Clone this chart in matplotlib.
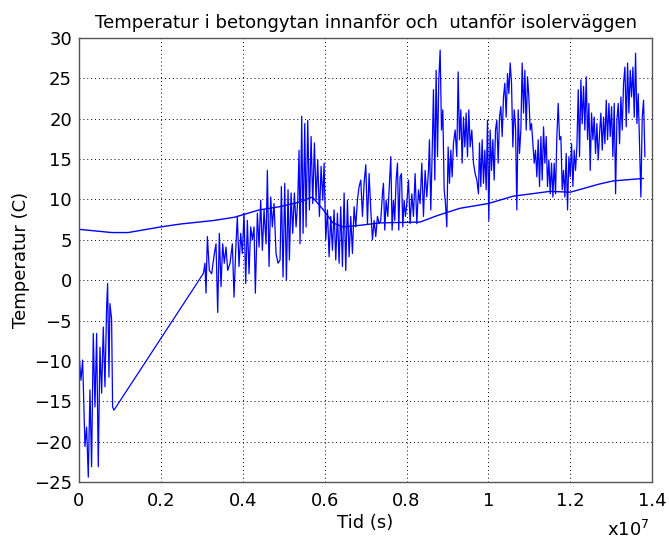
import matplotlib
matplotlib.use("Agg")
import matplotlib.pyplot as plt
import numpy as np

# Time values are in units of 1e7 s, temperatures in degrees C.

# Inner concrete surface (smooth curve)
inner_t = [0.0, 0.04, 0.08, 0.12, 0.2, 0.247, 0.33, 0.38, 0.44, 0.49, 0.54, 0.57,
           0.597, 0.62, 0.645, 0.687, 0.735, 0.833, 0.875, 0.93, 1.0, 1.06, 1.15,
           1.2, 1.27, 1.305, 1.378]
inner_temp = [6.3, 6.1, 5.9, 5.9, 6.6, 6.95, 7.4, 7.8, 8.7, 9.1, 9.7, 10.3,
              8.7, 7.1, 6.6, 6.8, 7.1, 7.2, 8.0, 8.9, 9.5, 10.4, 11.0,
              10.9, 11.9, 12.3, 12.6]

# Outer concrete surface, stored as (time, temperature) pairs per period
outer_winter = [
    (0.0008, -9.5), (0.0049, -12.4), (0.0090, -9.9), (0.0147, -20.6),
    (0.0187, -18.2), (0.0228, -24.4), (0.0269, -13.6), (0.0309, -23.1),
    (0.0350, -6.6), (0.0391, -15.7), (0.0432, -6.6), (0.0472, -23.1),
    (0.0513, -8.3), (0.0554, -14.0), (0.0594, -5.8), (0.0635, -13.2),
    (0.0676, -3.3), (0.0700, -0.4), (0.0733, -12.0), (0.0757, -2.9),
    (0.0798, -4.9), (0.0822, -15.7), (0.0855, -16.1),
]

outer_spring = [
    (0.3038, 0.83), (0.3078, 2.1), (0.3103, -1.6), (0.3136, 5.4),
    (0.3184, 1.2), (0.3241, 0.8), (0.3306, 3.3), (0.3347, 4.5),
    (0.3388, -4.0), (0.3428, 5.8), (0.3469, -0.8), (0.3510, 4.5),
    (0.3550, 2.1), (0.3591, 4.1), (0.3632, 1.2), (0.3689, 2.1),
    (0.3746, 4.5), (0.3787, -2.1), (0.3828, 3.7), (0.3868, 7.9),
    (0.3909, 1.7), (0.3950, 5.8), (0.3990, 3.3), (0.4031, 8.3),
    (0.4072, -0.4), (0.4113, 7.4), (0.4153, 0.8), (0.4194, 6.6),
    (0.4235, 5.0), (0.4275, 6.6), (0.4308, -1.6), (0.4357, 8.3),
    (0.4398, 4.1), (0.4438, 9.9), (0.4479, 3.7), (0.4520, 8.7),
    (0.4569, 4.5), (0.4601, 13.6), (0.4642, 1.7), (0.4683, 10.3),
    (0.4723, 6.6), (0.4764, 9.5), (0.4813, 3.3), (0.4862, 2.1),
    (0.4911, 2.5), (0.4943, 11.6), (0.4984, 0.4), (0.5025, 12.0),
    (0.5066, 0.0), (0.5106, 11.2), (0.5139, 2.5), (0.5180, 10.8),
    (0.5220, 5.8), (0.5261, 10.8), (0.5302, 6.6), (0.5343, 9.9),
    (0.5375, 16.1), (0.5399, 4.5), (0.5440, 20.3), (0.5473, 5.8),
    (0.5514, 19.4), (0.5546, 6.6), (0.5587, 19.8), (0.5628, 8.7),
    (0.5669, 17.8), (0.5709, 9.5), (0.5750, 17.0), (0.5791, 9.9),
    (0.5831, 14.9), (0.5872, 7.9), (0.5913, 14.1), (0.5954, 9.9),
    (0.5986, 14.5), (0.6027, 5.0), (0.6068, 8.7), (0.6108, 2.9),
    (0.6149, 7.9), (0.6190, 3.7), (0.6230, 8.7), (0.6271, 2.5),
    (0.6312, 8.3), (0.6353, 2.1), (0.6393, 9.1), (0.6434, 1.7),
    (0.6475, 10.8), (0.6515, 1.2), (0.6556, 9.9), (0.6597, 2.9),
    (0.6638, 7.9), (0.6678, 3.3), (0.6719, 9.1), (0.6760, 6.6),
    (0.6800, 9.9), (0.6841, 11.6), (0.6882, 12.4), (0.6923, 7.9),
    (0.6963, 12.0), (0.7004, 14.3), (0.7045, 7.0), (0.7085, 13.2),
    (0.7126, 8.7), (0.7167, 5.0), (0.7208, 7.4), (0.7248, 5.4),
    (0.7289, 7.9), (0.7330, 7.0),
]

outer_summer = [
    (0.7370, 7.4), (0.7411, 10.7), (0.7436, 12.0), (0.7468, 6.2),
    (0.7501, 9.9), (0.7541, 7.9), (0.7582, 12.0), (0.7615, 15.3),
    (0.7647, 6.2), (0.7680, 9.9), (0.7712, 7.4), (0.7745, 12.4),
    (0.7778, 14.5), (0.7810, 6.2), (0.7843, 12.8), (0.7875, 13.2),
    (0.7908, 6.6), (0.7940, 9.9), (0.7973, 7.9), (0.8006, 9.5),
    (0.8046, 12.4), (0.8087, 7.0), (0.8128, 10.7), (0.8168, 7.9),
    (0.8209, 13.2), (0.8250, 7.0), (0.8291, 11.2), (0.8331, 9.5),
    (0.8372, 14.5), (0.8413, 7.9), (0.8453, 13.6), (0.8494, 10.3),
    (0.8535, 13.6), (0.8559, 17.4), (0.8592, 8.7), (0.8625, 15.7),
    (0.8657, 23.6), (0.8690, 12.4), (0.8722, 26.0), (0.8755, 15.3),
    (0.8787, 24.8), (0.8820, 28.5), (0.8853, 18.6), (0.8885, 21.1),
    (0.8918, 11.2), (0.8950, 9.5), (0.8983, 6.6), (0.9015, 16.5),
    (0.9048, 12.0), (0.9081, 16.1), (0.9113, 12.8), (0.9146, 17.0),
    (0.9186, 18.6), (0.9227, 15.3), (0.9260, 25.8), (0.9292, 17.4),
    (0.9325, 21.1), (0.9357, 14.5), (0.9390, 20.2), (0.9423, 16.5),
    (0.9455, 20.7), (0.9488, 15.3), (0.9520, 21.1), (0.9553, 16.5),
    (0.9593, 18.6), (0.9634, 14.5), (0.9675, 13.2), (0.9716, 12.4),
    (0.9756, 10.7), (0.9781, 17.0), (0.9813, 11.6), (0.9846, 17.4),
    (0.9879, 12.0), (0.9911, 16.1), (0.9944, 11.2), (0.9976, 19.8),
    (1.0009, 7.4), (1.0041, 18.6), (1.0074, 13.6), (1.0107, 17.4),
    (1.0139, 12.4), (1.0172, 18.6), (1.0204, 19.8), (1.0237, 14.5),
    (1.0270, 20.2), (1.0302, 21.5), (1.0335, 17.8), (1.0367, 22.7),
    (1.0400, 24.4), (1.0432, 20.2), (1.0465, 25.6), (1.0498, 23.1),
    (1.0530, 26.9), (1.0563, 24.4), (1.0595, 16.5), (1.0628, 21.1),
    (1.0661, 19.0), (1.0693, 8.7), (1.0726, 21.1), (1.0758, 15.7),
]

outer_autumn = [
    (1.0791, 18.6), (1.0823, 26.9), (1.0856, 20.7), (1.0889, 26.0),
    (1.0921, 18.6), (1.0954, 25.2), (1.0986, 22.7), (1.1019, 18.6),
    (1.1051, 19.4), (1.1084, 16.9), (1.1117, 14.5), (1.1149, 16.1),
    (1.1182, 12.8), (1.1214, 17.4), (1.1247, 11.6), (1.1280, 17.8),
    (1.1312, 12.4), (1.1345, 19.0), (1.1377, 14.5), (1.1410, 17.8),
    (1.1442, 11.6), (1.1475, 14.9), (1.1508, 10.7), (1.1540, 14.5),
    (1.1573, 10.3), (1.1605, 14.5), (1.1638, 10.7), (1.1670, 17.8),
    (1.1703, 21.9), (1.1736, 17.4), (1.1768, 17.8), (1.1801, 11.2),
    (1.1833, 13.6), (1.1866, 10.3), (1.1898, 15.7), (1.1931, 8.7),
    (1.1964, 15.3), (1.1996, 12.8), (1.2029, 16.9), (1.2061, 11.6),
    (1.2094, 16.1), (1.2126, 13.6), (1.2159, 16.5), (1.2192, 23.6),
    (1.2224, 15.3), (1.2257, 24.8), (1.2289, 19.4), (1.2322, 24.0),
    (1.2354, 18.6), (1.2387, 25.2), (1.2420, 17.4), (1.2452, 21.9),
    (1.2485, 13.6), (1.2517, 20.7), (1.2550, 17.4), (1.2582, 20.2),
    (1.2615, 15.7), (1.2648, 19.4), (1.2680, 14.9), (1.2713, 18.2),
    (1.2745, 20.7), (1.2778, 16.1), (1.2810, 20.2), (1.2843, 16.9),
    (1.2876, 22.3), (1.2908, 17.4), (1.2941, 21.9), (1.2973, 17.8),
    (1.3006, 21.5), (1.3038, 15.3), (1.3071, 21.9), (1.3104, 10.7),
    (1.3136, 19.8), (1.3169, 21.9), (1.3201, 16.9), (1.3234, 22.7),
    (1.3266, 18.6), (1.3299, 24.4), (1.3332, 26.4), (1.3364, 19.0),
    (1.3397, 26.9), (1.3429, 20.7), (1.3462, 26.0), (1.3494, 22.7),
    (1.3527, 26.4), (1.3560, 20.2), (1.3592, 28.1), (1.3625, 19.4),
    (1.3657, 23.1), (1.3690, 16.5), (1.3722, 10.3), (1.3755, 20.2),
    (1.3787, 22.3), (1.3820, 15.3),
]

x_ticks = [0, 0.2, 0.4, 0.6, 0.8, 1.0, 1.2, 1.4]
x_tick_labels = ["0", "0.2", "0.4", "0.6", "0.8", "1", "1.2", "1.4"]
y_ticks = [-25, -20, -15, -10, -5, 0, 5, 10, 15, 20, 25, 30]

SCALE = 1e7

outer = outer_winter + outer_spring + outer_summer + outer_autumn
outer_t = np.array([p[0] for p in outer]) * SCALE
outer_temp = np.array([p[1] for p in outer])

plt.rcParams["font.family"] = ["DejaVu Sans"]

fig = plt.figure(figsize=(6.69, 5.42), dpi=100)
ax = fig.add_axes([0.118, 0.1107, 0.857, 0.8192])

line_color = "#0000ff"
ax.plot(outer_t, outer_temp, color=line_color, lw=0.9)
ax.plot(np.array(inner_t) * SCALE, inner_temp, color=line_color, lw=1.0)

ax.set_xlim(0, 1.4 * SCALE)
ax.set_ylim(-25, 30)
ax.set_xticks([v * SCALE for v in x_ticks])
ax.set_xticklabels(x_tick_labels)
ax.set_yticks(y_ticks)

ax.grid(True, color="black", linestyle=(0, (1, 3)), linewidth=0.7)
ax.tick_params(direction="in", length=0, labelsize=13, colors="black")
ax.tick_params(axis="x", pad=7)
ax.tick_params(axis="y", pad=5)
for sp in ax.spines.values():
    sp.set_color("#555555")
    sp.set_linewidth(1.0)

ax.set_title("Temperatur i betongytan innanför och  utanför isolerväggen",
             fontsize=13, pad=7)
ax.set_xlabel("Tid (s)", fontsize=13, labelpad=3)
ax.set_ylabel("Temperatur (C)", fontsize=13, labelpad=3)

fig.text(0.908, 0.004, "x10$^7$", fontsize=13, ha="left", va="bottom")

fig.savefig("out.png", dpi=100)
